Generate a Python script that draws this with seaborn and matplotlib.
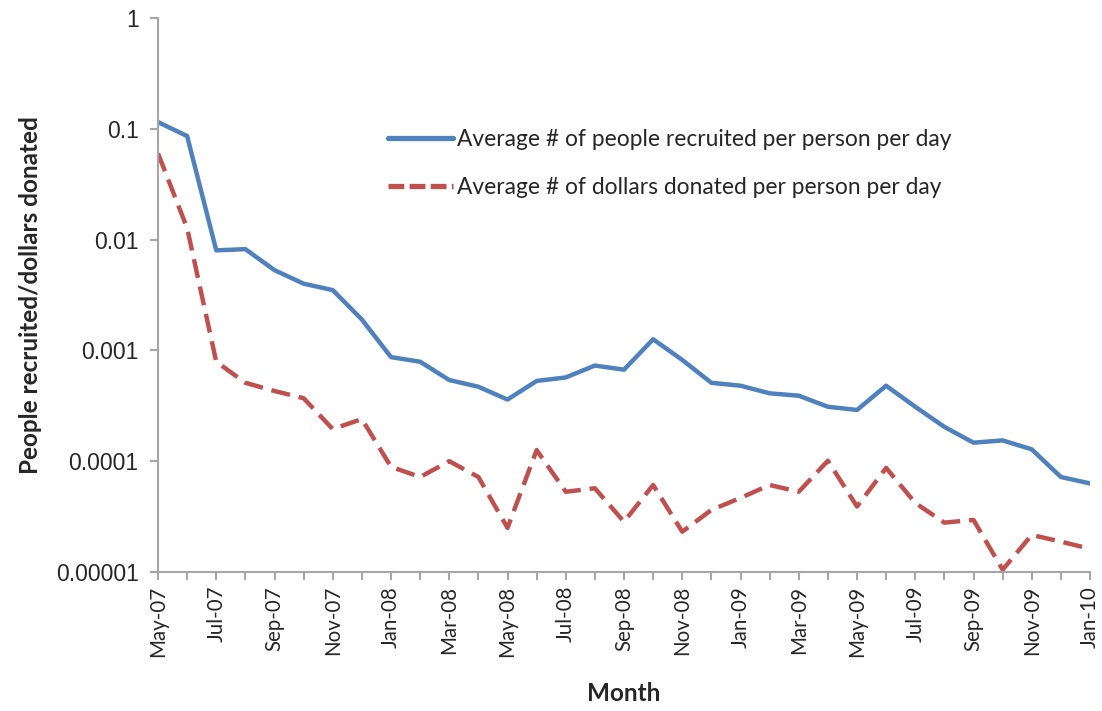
import numpy as np
import pandas as pd
import matplotlib
matplotlib.use("Agg")
import matplotlib.pyplot as plt
from matplotlib.lines import Line2D
import seaborn as sns

months = ["May-07", "Jun-07", "Jul-07", "Aug-07", "Sep-07", "Oct-07", "Nov-07", "Dec-07",
          "Jan-08", "Feb-08", "Mar-08", "Apr-08", "May-08", "Jun-08", "Jul-08", "Aug-08",
          "Sep-08", "Oct-08", "Nov-08", "Dec-08", "Jan-09", "Feb-09", "Mar-09", "Apr-09",
          "May-09", "Jun-09", "Jul-09", "Aug-09", "Sep-09", "Oct-09", "Nov-09", "Dec-09",
          "Jan-10"]

recruited = [0.115, 0.086, 0.0080, 0.0082, 0.0053, 0.0040, 0.0035, 0.0019,
             0.00087, 0.00079, 0.00054, 0.00047, 0.00036, 0.00053, 0.00057, 0.00073,
             0.00067, 0.00126, 0.00082, 0.00051, 0.00048, 0.00041, 0.00039, 0.00031,
             0.00029, 0.00048, 0.00031, 0.000204, 0.000147, 0.000154, 0.000128, 0.000072,
             0.000063]

donated = [0.060, 0.0127, 0.00079, 0.00051, 0.00043, 0.00037, 0.000195, 0.00024,
           0.000089, 0.000072, 0.0001, 0.000072, 0.000025, 0.000126, 0.000053, 0.000057,
           0.0000284, 0.000061, 0.0000231, 0.0000363, 0.0000466, 0.000061, 0.000053, 0.000101,
           0.000039, 0.000087, 0.000042, 0.0000279, 0.0000295, 0.0000105, 0.0000216, 0.0000188,
           0.0000162]

label_recruited = "Average # of people recruited per person per day"
label_donated = "Average # of dollars donated per person per day"

y_ticks = [0.00001, 0.0001, 0.001, 0.01, 0.1, 1]
y_ticklabels = ["0.00001", "0.0001", "0.001", "0.01", "0.1", "1"]

BLUE = "#4F81BD"
RED = "#C0504D"
AXIS_GRAY = "#a6a6a6"

sns.set_style("white")
plt.rcParams["font.family"] = ["Lato", "DejaVu Sans"]

df = pd.DataFrame({
    "idx": list(range(len(months))) * 2,
    "value": recruited + donated,
    "series": [label_recruited] * len(months) + [label_donated] * len(months),
})

fig = plt.figure(figsize=(11.02, 7.11), dpi=100)
ax = fig.add_axes([158 / 1102, 1 - 572 / 711, (1090 - 158) / 1102, (572 - 18) / 711])

sns.lineplot(
    data=df, x="idx", y="value", hue="series", style="series",
    palette={label_recruited: BLUE, label_donated: RED},
    dashes={label_recruited: "", label_donated: (4.3, 2.0)},
    linewidth=3.2, ax=ax, legend=False,
)

ax.set_yscale("log")
ax.set_ylim(0.00001, 1)
ax.set_xlim(0, len(months) - 1)
ax.set_yticks(y_ticks)
ax.set_yticklabels(y_ticklabels, fontsize=16.5, family=["Liberation Sans"])
ax.yaxis.set_minor_locator(matplotlib.ticker.NullLocator())

major = list(range(0, len(months), 2))
ax.set_xticks(major)
ax.set_xticklabels([months[i] for i in major], rotation=90, fontsize=14.8)
ax.set_xticks(list(range(len(months))), minor=True)

for s in ["top", "right"]:
    ax.spines[s].set_visible(False)
for s in ["left", "bottom"]:
    ax.spines[s].set_color(AXIS_GRAY)
    ax.spines[s].set_linewidth(1.5)
ax.tick_params(axis="both", which="both", direction="out", color=AXIS_GRAY,
               width=1.5, length=6, pad=4, left=True, bottom=True)
ax.tick_params(axis="y", pad=8)

ax.set_xlabel("Month", fontsize=17.5, fontweight="bold", labelpad=18)
ax.set_ylabel("People recruited/dollars donated", fontsize=17.5, fontweight="bold", labelpad=10)

handles = [
    Line2D([], [], color=BLUE, linewidth=3.8),
    Line2D([], [], color=RED, linewidth=3.8, dashes=(3.0, 1.0)),
]
ax.legend(handles, [label_recruited, label_donated], loc="upper left",
          bbox_to_anchor=(0.247, 0.80), frameon=False, fontsize=16.4,
          handlelength=2.85, handletextpad=0.15, labelspacing=1.2,
          borderpad=0, borderaxespad=0)

fig.savefig("out.png", dpi=100)
